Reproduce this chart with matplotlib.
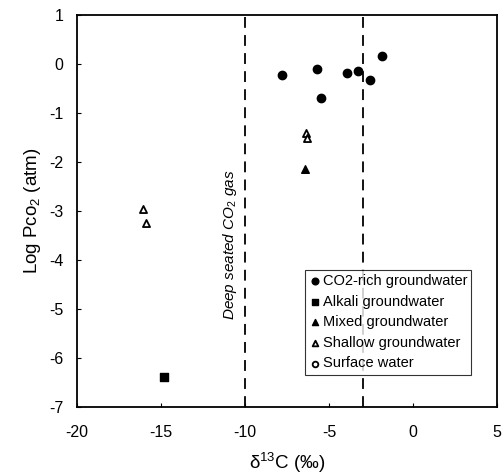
import matplotlib
matplotlib.use("Agg")
import matplotlib.pyplot as plt

plt.rcParams["font.family"] = ["Liberation Sans", "DejaVu Sans"]
plt.rcParams["mathtext.fontset"] = "custom"
plt.rcParams["mathtext.rm"] = "Liberation Sans"
plt.rcParams["mathtext.it"] = "Liberation Sans:italic"
plt.rcParams["axes.unicode_minus"] = False

# delta13C (permil) and log PCO2 (atm)
co2_x = [-7.77, -5.73, -5.49, -3.93, -3.28, -2.56, -1.86]
co2_y = [-0.24, -0.10, -0.69, -0.18, -0.14, -0.34, 0.16]
alkali_x = [-14.8]
alkali_y = [-6.40]
mixed_x = [-6.43]
mixed_y = [-2.14]
shallow_x = [-16.1, -15.9, -6.4, -6.3]
shallow_y = [-2.96, -3.25, -1.42, -1.52]
surface_x = []
surface_y = []

deep_gas_bounds = [-10, -3]
x_ticks = [-20, -15, -10, -5, 0, 5]
y_ticks = [1, 0, -1, -2, -3, -4, -5, -6, -7]

fig = plt.figure(figsize=(5.04, 4.76), dpi=100)
ax = fig.add_axes([0.153, 0.146, 0.833, 0.823])

ax.scatter(co2_x, co2_y, s=36, marker="o", color="black", label="CO2-rich groundwater")
ax.scatter(alkali_x, alkali_y, s=34, marker="s", color="black", label="Alkali groundwater")
ax.scatter(mixed_x, mixed_y, s=30, marker="^", color="black", label="Mixed groundwater")
ax.scatter(shallow_x, shallow_y, s=26, marker="^", facecolor="white",
           edgecolor="black", linewidth=1.3, label="Shallow groundwater")
ax.scatter(surface_x, surface_y, s=26, marker="o", facecolor="white",
           edgecolor="black", linewidth=1.3, label="Surface water")

for xv in deep_gas_bounds:
    ax.axvline(xv, color="black", linestyle=(0, (6, 4)), linewidth=1.3)

ax.text(-10.9, -3.7, "Deep seated CO$_2$ gas", rotation=90, style="italic",
        fontsize=11, ha="center", va="center")

ax.set_xlim(-20, 5)
ax.set_ylim(-7, 1)
ax.set_xticks(x_ticks)
ax.set_yticks(y_ticks)
ax.tick_params(direction="in", length=3, width=0.8, labelsize=11.5)
ax.tick_params(axis="x", pad=13)
ax.tick_params(axis="y", pad=10)
for side in ax.spines.values():
    side.set_linewidth(1.3)

ax.set_xlabel("δ$^{13}$C (‰)", fontsize=13.5, labelpad=8)
ax.set_ylabel("Log Pco$_2$ (atm)", fontsize=13.5, labelpad=4)

leg = ax.legend(loc="upper left", bbox_to_anchor=(0.543, 0.349), borderaxespad=0,
                fontsize=10.5, frameon=True, fancybox=False, edgecolor="black",
                handletextpad=0.1, handlelength=0.8, labelspacing=0.45,
                borderpad=0.3, markerscale=0.8)
leg.get_frame().set_linewidth(0.8)

fig.savefig("out.png", dpi=100)
plt.close(fig)
